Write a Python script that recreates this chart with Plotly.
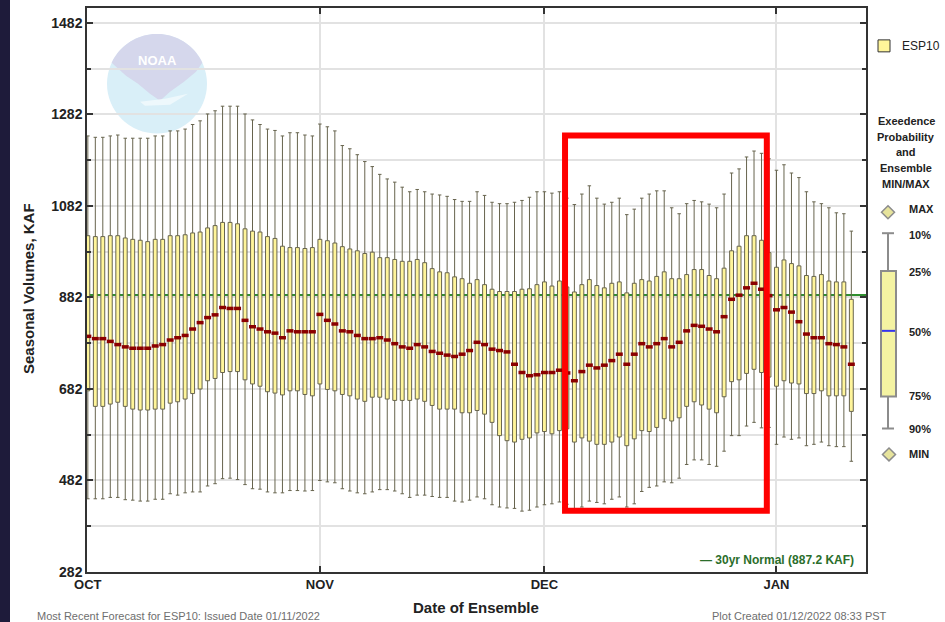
import numpy as np
import pandas as pd
import plotly.graph_objects as go

# ---------------------------------------------------------------- data
START = "2021-10-01"
N_DAYS = 103
dates = pd.date_range(START, periods=N_DAYS, freq="D")

# exceedance-probability volumes (KAF) for each ensemble date
p10 = [1235, 1232, 1232, 1235, 1237, 1230, 1230, 1230, 1230, 1235,
       1235, 1246, 1246, 1250, 1260, 1268, 1283, 1290, 1300, 1300,
       1300, 1283, 1270, 1260, 1250, 1247, 1235, 1242, 1242, 1237,
       1235, 1261, 1255, 1246, 1214, 1207, 1194, 1179, 1168, 1151,
       1141, 1134, 1123, 1113, 1118, 1113, 1108, 1106, 1103, 1096,
       1092, 1092, 1113, 1105, 1090, 1087, 1087, 1090, 1094, 1101,
       1113, 1113, 1110, 1113, 1099, 1085, 1108, 1126, 1099, 1086,
       1090, 1099, 1063, 1075, 1099, 1108, 1115, 1115, 1078, 1065,
       1087, 1094, 1091, 1086, 1078, 1108, 1154, 1163, 1189, 1202,
       1197, 1185, 1160, 1172, 1154, 1144, 1113, 1091, 1087, 1078,
       1067, 1065, 1027]
p25 = [1017, 1015, 1015, 1017, 1017, 1012, 1009, 1007, 1004, 1009,
       1009, 1017, 1017, 1019, 1023, 1025, 1034, 1039, 1046, 1046,
       1043, 1032, 1027, 1025, 1015, 1011, 994, 991, 991, 989,
       991, 1009, 1006, 1001, 993, 988, 984, 978, 981, 969,
       969, 965, 961, 961, 965, 958, 945, 938, 936, 927,
       923, 913, 921, 910, 900, 895, 895, 895, 900, 901,
       910, 916, 907, 918, 905, 894, 910, 921, 908, 903,
       913, 916, 892, 913, 921, 918, 928, 938, 923, 923,
       932, 943, 943, 930, 923, 946, 984, 994, 1017, 1017,
       1007, 980, 948, 964, 956, 951, 930, 928, 932, 918,
       916, 916, 878]
p50 = [797, 792, 792, 786, 779, 774, 771, 771, 771, 776,
       779, 789, 794, 799, 813, 827, 838, 844, 860, 858,
       858, 832, 818, 813, 807, 804, 794, 809, 807, 807,
       807, 845, 832, 824, 809, 807, 799, 792, 792, 794,
       789, 781, 774, 771, 779, 774, 764, 760, 756, 753,
       758, 766, 784, 779, 769, 766, 763, 736, 718, 711,
       713, 718, 718, 723, 717, 700, 720, 734, 728, 734,
       744, 758, 736, 758, 781, 774, 781, 792, 774, 784,
       809, 821, 819, 813, 807, 840, 878, 887, 903, 913,
       900, 886, 855, 860, 850, 829, 802, 794, 794, 781,
       779, 774, 736]
p75 = [678, 644, 644, 649, 653, 644, 638, 636, 636, 638,
       638, 651, 654, 660, 672, 682, 700, 705, 718, 720,
       720, 702, 693, 688, 676, 673, 669, 678, 678, 670,
       667, 693, 681, 678, 670, 667, 660, 655, 664, 664,
       660, 657, 657, 657, 660, 655, 646, 638, 638, 638,
       630, 630, 635, 627, 609, 580, 569, 566, 572, 575,
       586, 589, 584, 591, 595, 566, 575, 568, 561, 561,
       566, 577, 558, 573, 591, 589, 598, 617, 612, 619,
       644, 654, 647, 638, 630, 665, 698, 702, 716, 725,
       718, 708, 688, 700, 695, 693, 672, 672, 678, 667,
       667, 667, 633]
p90 = [442, 442, 442, 445, 445, 440, 439, 437, 437, 441,
       441, 453, 450, 455, 457, 457, 470, 475, 486, 487,
       484, 473, 464, 463, 457, 455, 455, 460, 460, 459,
       460, 482, 479, 477, 464, 459, 455, 453, 457, 462,
       462, 459, 453, 445, 450, 450, 447, 445, 445, 437,
       435, 439, 446, 442, 429, 424, 422, 421, 415, 417,
       424, 429, 431, 435, 430, 417, 424, 437, 434, 431,
       441, 446, 424, 431, 458, 467, 470, 479, 477, 487,
       517, 527, 527, 517, 513, 546, 580, 580, 601, 609,
       597, 598, 561, 577, 572, 575, 558, 561, 566, 558,
       556, 556, 524]

NORMAL_KAF = 887.2
month_ticks = ["2021-10-01", "2021-11-01", "2021-12-01", "2022-01-01"]
month_labels = ["OCT", "NOV", "DEC", "JAN"]
highlight_dates = ["2021-12-03 18:00", "2021-12-30 17:00"]
highlight_kaf = [416, 1236]

# ---------------------------------------------------------------- layout geometry
W, H = 945, 622
L, R, T, B = 87, 866, 6, 572          # plot area in pixels


def px(x):
    return (x - L) / (R - L)


def py(y):
    return (B - y) / (B - T)


FONT = "Liberation Sans, Arial, sans-serif"
BOX_FILL = "#fff59a"
BOX_LINE = "#67644e"
MEDIAN = "#8b0000"
GRID = "#e2e2e2"
AXIS = "#333333"

fig = go.Figure()

fig.add_trace(go.Box(
    x=dates, q1=p75, median=p50, q3=p25,
    lowerfence=p90, upperfence=p10,
    fillcolor=BOX_FILL,
    line=dict(color=BOX_LINE, width=1),
    whiskerwidth=0.9,
    boxpoints=False,
    showlegend=False,
    hoverinfo="skip",
))

fig.add_trace(go.Scatter(
    x=dates, y=p50, mode="markers",
    marker=dict(symbol="line-ew", size=5, color=MEDIAN,
                line=dict(color=MEDIAN, width=3.5)),
    showlegend=False, hoverinfo="skip",
))

shapes = []

# dark strip at the left edge of the page
shapes.append(dict(type="rect", xref="paper", yref="paper",
                   x0=px(-5), x1=px(10), y0=py(630), y1=py(-10),
                   fillcolor="#1e1b3a", line=dict(width=0), layer="above"))

# NOAA watermark
cx, cy, r = 157, 82, 50
shapes.append(dict(type="circle", xref="paper", yref="paper",
                   x0=px(cx - r), x1=px(cx + r), y0=py(cy + r), y1=py(cy - r),
                   fillcolor="#d9eff8", line=dict(width=0), layer="below"))
ang = np.linspace(np.radians(155), np.radians(25), 40)
cap = [(cx + r * np.cos(a), cy - r * np.sin(a)) for a in ang]
wing = [(196, 70), (184, 80), (170, 90), (160, 99), (150, 92), (138, 82),
        (126, 74), (cx + r * np.cos(np.radians(155)), cy - r * np.sin(np.radians(155)))]
pts = cap + wing
path = "M " + " L ".join(f"{px(a):.5f},{py(b):.5f}" for a, b in pts) + " Z"
shapes.append(dict(type="path", xref="paper", yref="paper", path=path,
                   fillcolor="#d5d7ec", line=dict(width=0), layer="below"))
tail = [(140, 100), (165, 97), (188, 92), (170, 103), (145, 104)]
path = "M " + " L ".join(f"{px(a):.5f},{py(b):.5f}" for a, b in tail) + " Z"
shapes.append(dict(type="path", xref="paper", yref="paper", path=path,
                   fillcolor="#eef8fc", line=dict(width=0), layer="below"))

# 30-yr normal
shapes.append(dict(type="line", xref="paper", yref="y", x0=0, x1=1,
                   y0=NORMAL_KAF, y1=NORMAL_KAF,
                   line=dict(color="#2f8f2f", width=2), layer="between"))

# highlight frame
shapes.append(dict(type="rect", xref="x", yref="y",
                   x0=highlight_dates[0], x1=highlight_dates[1],
                   y0=highlight_kaf[0], y1=highlight_kaf[1],
                   line=dict(color="#ff0000", width=6), layer="above"))

# legend key: ESP10 swatch
shapes.append(dict(type="rect", xref="paper", yref="paper",
                   x0=px(878), x1=px(890), y0=py(50), y1=py(38),
                   fillcolor=BOX_FILL, line=dict(color="#333", width=1)))


def diamond(xc, yc, h=6.5):
    p = [(xc, yc - h), (xc + h, yc), (xc, yc + h), (xc - h, yc)]
    return "M " + " L ".join(f"{px(a):.5f},{py(b):.5f}" for a, b in p) + " Z"


KEY_LINE = "#8c8c8c"
shapes.append(dict(type="path", xref="paper", yref="paper", path=diamond(888, 211),
                   fillcolor="#e6e39c", line=dict(color=KEY_LINE, width=1.5)))
shapes.append(dict(type="path", xref="paper", yref="paper", path=diamond(889, 454),
                   fillcolor="#e6e39c", line=dict(color=KEY_LINE, width=1.5)))
for (x0, y0, x1, y1) in [(882, 232, 894, 232), (888, 232, 888, 270),
                         (888, 396, 888, 428), (882, 428, 894, 428)]:
    shapes.append(dict(type="line", xref="paper", yref="paper",
                       x0=px(x0), x1=px(x1), y0=py(y0), y1=py(y1),
                       line=dict(color=KEY_LINE, width=2)))
shapes.append(dict(type="rect", xref="paper", yref="paper",
                   x0=px(881), x1=px(896), y0=py(396), y1=py(270),
                   fillcolor="#f4f3a2", line=dict(color=KEY_LINE, width=2)))
shapes.append(dict(type="line", xref="paper", yref="paper",
                   x0=px(882), x1=px(895), y0=py(330), y1=py(330),
                   line=dict(color="#3535ee", width=2)))

annotations = []


def text(t, x, y, size=11, bold=False, color="#222", xanchor="left", angle=0):
    annotations.append(dict(
        text=t, xref="paper", yref="paper", x=px(x), y=py(y),
        xanchor=xanchor, yanchor="middle", showarrow=False, textangle=angle,
        font=dict(family=FONT, size=size, color=color,
                  weight="bold" if bold else "normal")))


text("NOAA", 157, 59, size=13, bold=True, color="#ffffff", xanchor="center")
text("ESP10", 900, 44, size=12, color="#222")
for t, y in zip(["Exeedence", "Probability", "and", "Ensemble", "MIN/MAX"],
                [119, 135, 151, 167, 183]):
    text(t, 906, y, size=11, bold=True, xanchor="center")
for t, y in zip(["MAX", "10%", "25%", "50%", "75%", "90%", "MIN"],
                [208, 234, 271, 331, 395, 428, 454]):
    text(t, 907, y, size=11, bold=True)
text("— 30yr Normal (887.2 KAF)", 856, 560, size=12, bold=True,
     color="#2b6e2b", xanchor="right")
text("Date of Ensemble", 476, 608, size=15, bold=True, xanchor="center")
text("Seasonal Volumes, KAF", 28, 288, size=15, bold=True, xanchor="center", angle=-90)
text("Most Recent Forecast for ESP10: Issued Date 01/11/2022", 35, 616,
     size=11, color="#6e6e6e")
text("Plot Created 01/12/2022 08:33 PST", 710, 616, size=11, color="#6e6e6e")

fig.update_layout(
    width=W, height=H,
    margin=dict(l=L, r=W - R, t=T, b=H - B, pad=0),
    paper_bgcolor="#ffffff", plot_bgcolor="#ffffff",
    boxgap=0.26,
    showlegend=False,
    shapes=shapes,
    annotations=annotations,
    font=dict(family=FONT, color="#222"),
    xaxis=dict(
        type="date",
        range=["2021-09-30 21:20", "2022-01-12 23:00"],
        tickmode="array", tickvals=month_ticks, ticktext=month_labels,
        ticks="inside", ticklen=6, tickwidth=1.5, tickcolor=AXIS,
        showline=True, linecolor=AXIS, linewidth=1.5, mirror="allticks",
        showgrid=True, gridcolor=GRID, gridwidth=1.5,
        tickfont=dict(family=FONT, size=13, color="#222", weight="bold"),
        zeroline=False,
    ),
    yaxis=dict(
        range=[282, 1514.6],
        tickmode="linear", tick0=282, dtick=200,
        ticks="inside", ticklen=6, tickwidth=1.5, tickcolor=AXIS,
        showline=True, linecolor=AXIS, linewidth=1.5, mirror="allticks",
        showgrid=True, gridcolor=GRID, gridwidth=1.5,
        minor=dict(tickmode="linear", tick0=282, dtick=100, ticks="inside",
                   ticklen=4, tickcolor=AXIS, showgrid=True,
                   gridcolor=GRID, gridwidth=1.5),
        tickfont=dict(family=FONT, size=14, color="#222", weight="bold"),
        zeroline=False,
    ),
)

fig.write_html("out.html")
